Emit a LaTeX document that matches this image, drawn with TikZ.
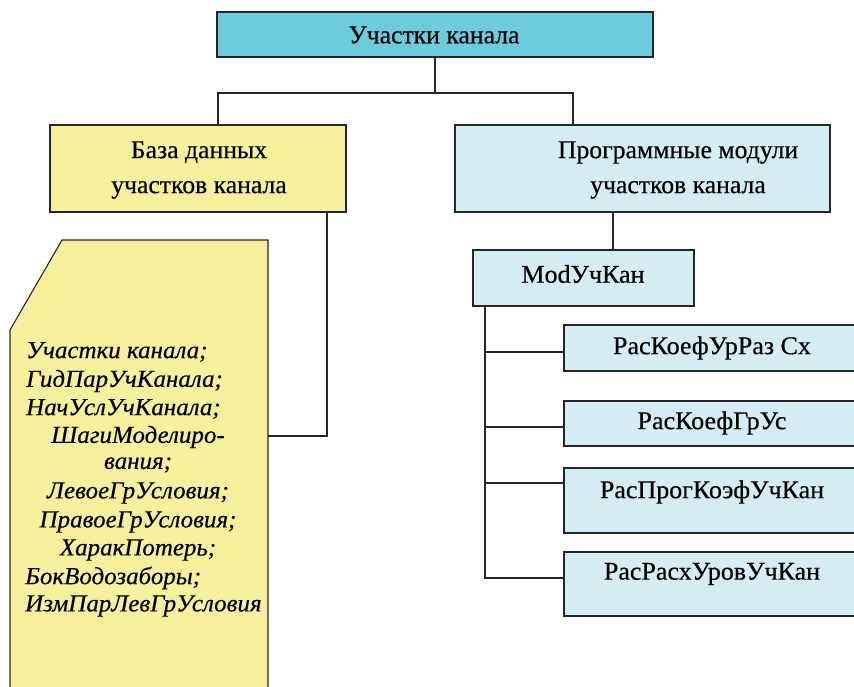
\documentclass[tikz,border=0pt]{standalone}
\usepackage{fontspec}
\setmainfont{Liberation Serif}[FakeBold=0.4]
\usetikzlibrary{calc}
\definecolor{topc}{HTML}{6DCCDC}
\definecolor{yel}{HTML}{F6F09C}
\definecolor{lblue}{HTML}{D4ECF3}
\newcommand\sxa[1]{\scalebox{1.0}[1]{#1}}
\newcommand\sxb[1]{\scalebox{1.02}[1]{#1}}
\newcommand\sxc[1]{\scalebox{1.02}[1]{#1}}
\newcommand\sxd[1]{\scalebox{1.02}[1]{#1}}
\begin{document}
\begin{tikzpicture}[x=1pt,y=-1pt,
  box/.style={draw=black!85,line width=1.1pt,inner sep=0pt},
  bigtxt/.style={font=\fontsize{25.7}{35}\selectfont,align=center,inner sep=0pt},
  modtxt/.style={font=\fontsize{25.5}{28}\selectfont,inner sep=0pt},
  listtxt/.style={font=\fontsize{24.5}{28}\selectfont\itshape,inner sep=0pt},
  conn/.style={line width=1.1pt,black!85}]
\useasboundingbox (0,0) rectangle (854,686);
% boxes
\node[box,fill=topc,minimum width=436pt,minimum height=45pt] (top) at (435,34.5) {};
\node[bigtxt] (toptxt) at (434,35) {\sxa{Участки канала}};
\node[box,fill=yel,minimum width=296pt,minimum height=87pt] (left) at (198,168.5) {};
\node[bigtxt] (lefttxt) at (199,170) {\sxa{База данных}\\\sxa{участков канала}};
\node[box,fill=lblue,minimum width=375pt,minimum height=87pt] (right) at (642.5,168.5) {};
\node[bigtxt] (righttxt) at (678,170) {\sxa{Программные модули}\\\sxa{участков канала}};
\node[box,fill=lblue,minimum width=221pt,minimum height=56pt] (mod) at (583.5,278) {};
\node[modtxt] (modtxt) at (583,274) {\sxb{ModУчКан}};
\node[box,fill=lblue,minimum width=296pt,minimum height=46pt] (b1) at (712,348) {};
\node[modtxt] (b1t) at (712,348) {\sxc{РасКоефУрРаз Сх}};
\node[box,fill=lblue,minimum width=296pt,minimum height=45pt] (b2) at (712,423.5) {};
\node[modtxt] (b2t) at (712,423) {\sxc{РасКоефГрУс}};
\node[box,fill=lblue,minimum width=296pt,minimum height=65pt] (b3) at (712,500.5) {};
\node[modtxt] (b3t) at (712,492) {\sxc{РасПрогКоэфУчКан}};
\node[box,fill=lblue,minimum width=296pt,minimum height=64pt] (b4) at (712,584) {};
\node[modtxt] (b4t) at (712,574) {\sxc{РасРасхУровУчКан}};
% document shape
\filldraw[fill=yel,draw=black!85,line width=1.1pt] (10,692) -- (10,330) -- (62,240) -- (268,240) -- (268,692);
\coordinate (docR) at (268,436);
\node[listtxt,anchor=west] (l1) at (26,352) {\sxd{Участки канала;}};
\node[listtxt,anchor=west] (l2) at (26,381) {\sxd{ГидПарУчКанала;}};
\node[listtxt,anchor=west] (l3) at (26,409) {\sxd{НачУслУчКанала;}};
\node[listtxt] (l4) at (138,437) {\sxd{ШагиМоделиро-}};
\node[listtxt] (l5) at (138,465) {\sxd{вания;}};
\node[listtxt] (l6) at (138,493) {\sxd{ЛевоеГрУсловия;}};
\node[listtxt] (l7) at (138,522) {\sxd{ПравоеГрУсловия;}};
\node[listtxt] (l8) at (138,550) {\sxd{ХаракПотерь;}};
\node[listtxt,anchor=west] (l9) at (25,578) {\sxd{БокВодозаборы;}};
\node[listtxt,anchor=west] (l10) at (25,606) {\sxd{ИзмПарЛевГрУсловия}};
% connectors
\coordinate (jL) at (218,93);
\coordinate (jR) at (573,93);
\draw[conn] (top.south) -- (top.south |- jL);
\draw[conn] (left.north -| jL) -- (jL) -- (jR) -- (right.north -| jR);
\coordinate (xl) at (327,0);
\draw[conn] (left.south -| xl) -- (xl |- docR) -- (docR);
\coordinate (xr) at (613,0);
\draw[conn] (right.south -| xr) -- (mod.north -| xr);
\coordinate (tr) at (485,0);
\coordinate (y1) at (0,352);
\coordinate (y2) at (0,427);
\coordinate (y3) at (0,483);
\coordinate (y4) at (0,578);
\draw[conn] (mod.south -| tr) -- (tr |- y4) -- (b4.west |- y4);
\draw[conn] (tr |- y1) -- (b1.west |- y1);
\draw[conn] (tr |- y2) -- (b2.west |- y2);
\draw[conn] (tr |- y3) -- (b3.west |- y3);
\end{tikzpicture}
\end{document}
